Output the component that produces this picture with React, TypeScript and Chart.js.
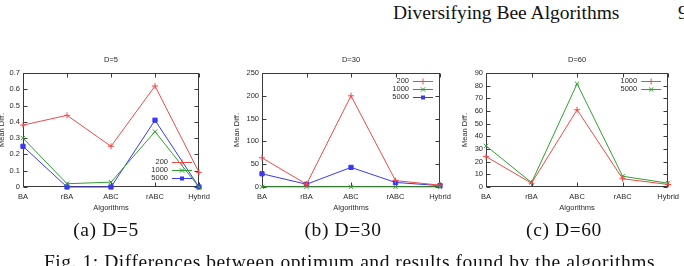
import React, { useEffect, useRef } from 'react';
import { Chart, registerables } from 'chart.js';
Chart.register(...registerables);

// ---------- data ----------
const algorithms = ['BA', 'rBA', 'ABC', 'rABC', 'Hybrid'];

const d5Labels = ['200', '1000', '5000'];
const d5_200 = [0.38, 0.44, 0.25, 0.62, 0.09];
const d5_1000 = [0.3, 0.02, 0.03, 0.34, 0];
const d5_5000 = [0.25, 0, 0, 0.41, 0];
const d5Ticks = { max: 0.7, step: 0.1 };

const d30Labels = ['200', '1000', '5000'];
const d30_200 = [64, 6, 200, 14, 4];
const d30_1000 = [0.4, 0.3, 0.4, 0.4, 0.3];
const d30_5000 = [29, 6, 43, 10, 3];
const d30Ticks = { max: 250, step: 50 };

const d60Labels = ['1000', '5000'];
const d60_1000 = [24, 3, 61, 6.5, 2];
const d60_5000 = [32.5, 3.5, 81.5, 8.5, 3];
const d60Ticks = { max: 90, step: 10 };

// ---------- styles ----------
const RED = '#ee4a4a';
const GREEN = '#2f9f2f';
const BLUE = '#3a3aee';
const AXIS = '#3a3a3a';
const TEXT = '#2a2a2a';
const SANS = "'Liberation Sans', Arial, sans-serif";
const SERIF = "'Liberation Serif', 'Times New Roman', serif";
const FS = 7.5;

function drawMarker(ctx: CanvasRenderingContext2D, style: string, x: number, y: number, color: string) {
  ctx.save();
  ctx.strokeStyle = color;
  ctx.fillStyle = color;
  ctx.lineWidth = 1;
  ctx.beginPath();
  if (style === 'cross') {
    ctx.moveTo(x - 3, y); ctx.lineTo(x + 3, y);
    ctx.moveTo(x, y - 3); ctx.lineTo(x, y + 3);
    ctx.stroke();
  } else if (style === 'crossRot') {
    ctx.moveTo(x - 2.2, y - 2.2); ctx.lineTo(x + 2.2, y + 2.2);
    ctx.moveTo(x - 2.2, y + 2.2); ctx.lineTo(x + 2.2, y - 2.2);
    ctx.stroke();
  } else {
    ctx.fillRect(x - 2, y - 2, 4, 4);
  }
  ctx.restore();
}

const gnuplotPlugin = {
  id: 'gnuplot',
  beforeDatasetsDraw(chart: any) {
    const { ctx, chartArea: a, scales } = chart;
    ctx.save();
    ctx.strokeStyle = AXIS;
    ctx.lineWidth = 1;
    const L = Math.round(a.left) + 0.5, R = Math.round(a.right) - 0.5;
    const T = Math.round(a.top) + 0.5, B = Math.round(a.bottom) - 0.5;
    ctx.strokeRect(L, T, R - L, B - T);
    ctx.beginPath();
    scales.y.ticks.forEach((t: any) => {
      const y = Math.round(scales.y.getPixelForValue(t.value)) + 0.5;
      ctx.moveTo(L, y); ctx.lineTo(L + 4, y);
      ctx.moveTo(R, y); ctx.lineTo(R - 4, y);
    });
    scales.x.ticks.forEach((t: any, i: number) => {
      const x = Math.round(scales.x.getPixelForTick(i)) + 0.5;
      ctx.moveTo(x, B); ctx.lineTo(x, B - 4);
      ctx.moveTo(x, T); ctx.lineTo(x, T + 4);
    });
    ctx.stroke();
    ctx.restore();
  },
  afterDatasetsDraw(chart: any) {
    const o = chart.options.plugins.gnuplot;
    const { ctx, chartArea: a } = chart;
    ctx.save();
    ctx.font = `${FS}px ${SANS}`;
    ctx.fillStyle = TEXT;
    ctx.textAlign = 'right';
    ctx.textBaseline = 'middle';
    chart.data.datasets.forEach((ds: any, i: number) => {
      const y = (o.legendAtBottom ? a.bottom - 25 : a.top + 7.5) + i * 8;
      ctx.fillStyle = TEXT;
      ctx.fillText(ds.label, a.right - 31, y);
      ctx.strokeStyle = ds.borderColor;
      ctx.lineWidth = 1;
      ctx.beginPath();
      ctx.moveTo(a.right - 27, Math.round(y) + 0.5);
      ctx.lineTo(a.right - 7, Math.round(y) + 0.5);
      ctx.stroke();
      drawMarker(ctx, ds.pointStyle, a.right - 17, Math.round(y) + 0.5, ds.borderColor);
    });
    ctx.restore();
  },
  afterDraw(chart: any) {
    const o = chart.options.plugins.gnuplot;
    const { ctx, chartArea: a } = chart;
    const cx = (a.left + a.right) / 2;
    ctx.save();
    ctx.font = `${FS}px ${SANS}`;
    ctx.fillStyle = TEXT;
    ctx.textAlign = 'center';
    ctx.textBaseline = 'middle';
    ctx.fillText(o.title, cx, o.titleY);
    ctx.fillText(o.xTitle, cx, o.xTitleY);
    ctx.translate(o.yTitleX, (a.top + a.bottom) / 2);
    ctx.rotate(-Math.PI / 2);
    ctx.fillText(o.yTitle, 0, 0);
    ctx.restore();
  },
};

type Series = { label: string; data: number[]; color: string; pointStyle: string; radius: number };

function GnuChart(props: {
  left: number; top: number; width: number; height: number;
  area: { left: number; top: number; right: number; bottom: number };
  title: string; yMax: number; yStep: number; series: Series[];
  legendAtBottom: boolean; yTitleX: number;
}) {
  const ref = useRef<HTMLCanvasElement>(null);
  useEffect(() => {
    const p = props;
    const chart = new Chart(ref.current!, {
      type: 'line',
      data: {
        labels: algorithms,
        datasets: p.series.map((s) => ({
          label: s.label,
          data: s.data,
          borderColor: s.color,
          backgroundColor: s.color,
          borderWidth: 1,
          pointStyle: s.pointStyle as any,
          pointRadius: s.radius,
          pointBorderWidth: 1,
          pointBorderColor: s.color,
          pointBackgroundColor: s.color,
          tension: 0,
          fill: false,
          clip: false as any,
        })),
      },
      options: {
        responsive: false,
        animation: false,
        devicePixelRatio: 1,
        events: [],
        layout: { padding: { top: p.area.top, right: p.width - p.area.right, left: 0, bottom: 0 } },
        plugins: {
          legend: { display: false },
          title: { display: false },
          tooltip: { enabled: false },
          gnuplot: {
            title: p.title,
            titleY: 10,
            xTitle: 'Algorithms',
            xTitleY: 158,
            yTitle: 'Mean Diff.',
            yTitleX: p.yTitleX,
            legendAtBottom: p.legendAtBottom,
          },
        } as any,
        scales: {
          x: {
            type: 'category',
            offset: false,
            grid: { display: false, drawTicks: false },
            border: { display: false },
            ticks: { autoSkip: false, maxRotation: 0, padding: 5, color: TEXT, font: { family: SANS, size: FS } },
            afterFit: (s: any) => { s.height = p.height - p.area.bottom; },
          },
          y: {
            type: 'linear',
            min: 0,
            max: p.yMax,
            grid: { display: false, drawTicks: false },
            border: { display: false },
            ticks: { stepSize: p.yStep, padding: 3, color: TEXT, font: { family: SANS, size: FS } },
            afterFit: (s: any) => { s.width = p.area.left; },
          },
        },
      },
      plugins: [gnuplotPlugin],
    });
    return () => chart.destroy();
  }, []);
  return (
    <canvas
      ref={ref}
      width={props.width}
      height={props.height}
      style={{ position: 'absolute', left: props.left, top: props.top, width: props.width, height: props.height }}
    />
  );
}

const textBase: React.CSSProperties = {
  position: 'absolute',
  fontFamily: SERIF,
  fontSize: 19.5,
  lineHeight: '20px',
  whiteSpace: 'nowrap',
  color: '#111',
};

export default function App() {
  useEffect(() => {
    document.body.style.margin = '0';
  }, []);
  const s5: Series[] = [
    { label: d5Labels[0], data: d5_200, color: RED, pointStyle: 'cross', radius: 3 },
    { label: d5Labels[1], data: d5_1000, color: GREEN, pointStyle: 'crossRot', radius: 3 },
    { label: d5Labels[2], data: d5_5000, color: BLUE, pointStyle: 'rect', radius: 3 },
  ];
  const s30: Series[] = [
    { label: d30Labels[0], data: d30_200, color: RED, pointStyle: 'cross', radius: 3 },
    { label: d30Labels[1], data: d30_1000, color: GREEN, pointStyle: 'crossRot', radius: 3 },
    { label: d30Labels[2], data: d30_5000, color: BLUE, pointStyle: 'rect', radius: 3 },
  ];
  const s60: Series[] = [
    { label: d60Labels[0], data: d60_1000, color: RED, pointStyle: 'cross', radius: 3 },
    { label: d60Labels[1], data: d60_5000, color: GREEN, pointStyle: 'crossRot', radius: 3 },
  ];
  const cap: React.CSSProperties = { ...textBase, width: 200, textAlign: 'center', top: 220, letterSpacing: '0.6px' };
  return (
    <div style={{ position: 'fixed', left: 0, top: 0, width: 684, height: 266, overflow: 'hidden', background: '#fff' }}>
      <div style={{ ...textBase, left: 393, top: 3 }}>Diversifying Bee Algorithms</div>
      <div style={{ ...textBase, left: 678, top: 3 }}>9</div>

      <GnuChart left={0} top={50} width={230} height={170}
        area={{ left: 23, top: 23, right: 199, bottom: 137 }}
        title="D=5" yMax={d5Ticks.max} yStep={d5Ticks.step} series={s5} legendAtBottom={true} yTitleX={2} />
      <GnuChart left={230} top={50} width={230} height={170}
        area={{ left: 32, top: 23, right: 210, bottom: 137 }}
        title="D=30" yMax={d30Ticks.max} yStep={d30Ticks.step} series={s30} legendAtBottom={false} yTitleX={7} />
      <GnuChart left={455} top={50} width={229} height={170}
        area={{ left: 31, top: 23, right: 214, bottom: 137 }}
        title="D=60" yMax={d60Ticks.max} yStep={d60Ticks.step} series={s60} legendAtBottom={false} yTitleX={10} />

      <div style={{ ...cap, left: 6 }}>(a) D=5</div>
      <div style={{ ...cap, left: 243 }}>(b) D=30</div>
      <div style={{ ...cap, left: 464 }}>(c) D=60</div>
      <div style={{ ...textBase, left: 0, width: 699, textAlign: 'center', top: 252, letterSpacing: '0.55px' }}>
        Fig. 1: Differences between optimum and results found by the algorithms
      </div>
    </div>
  );
}
